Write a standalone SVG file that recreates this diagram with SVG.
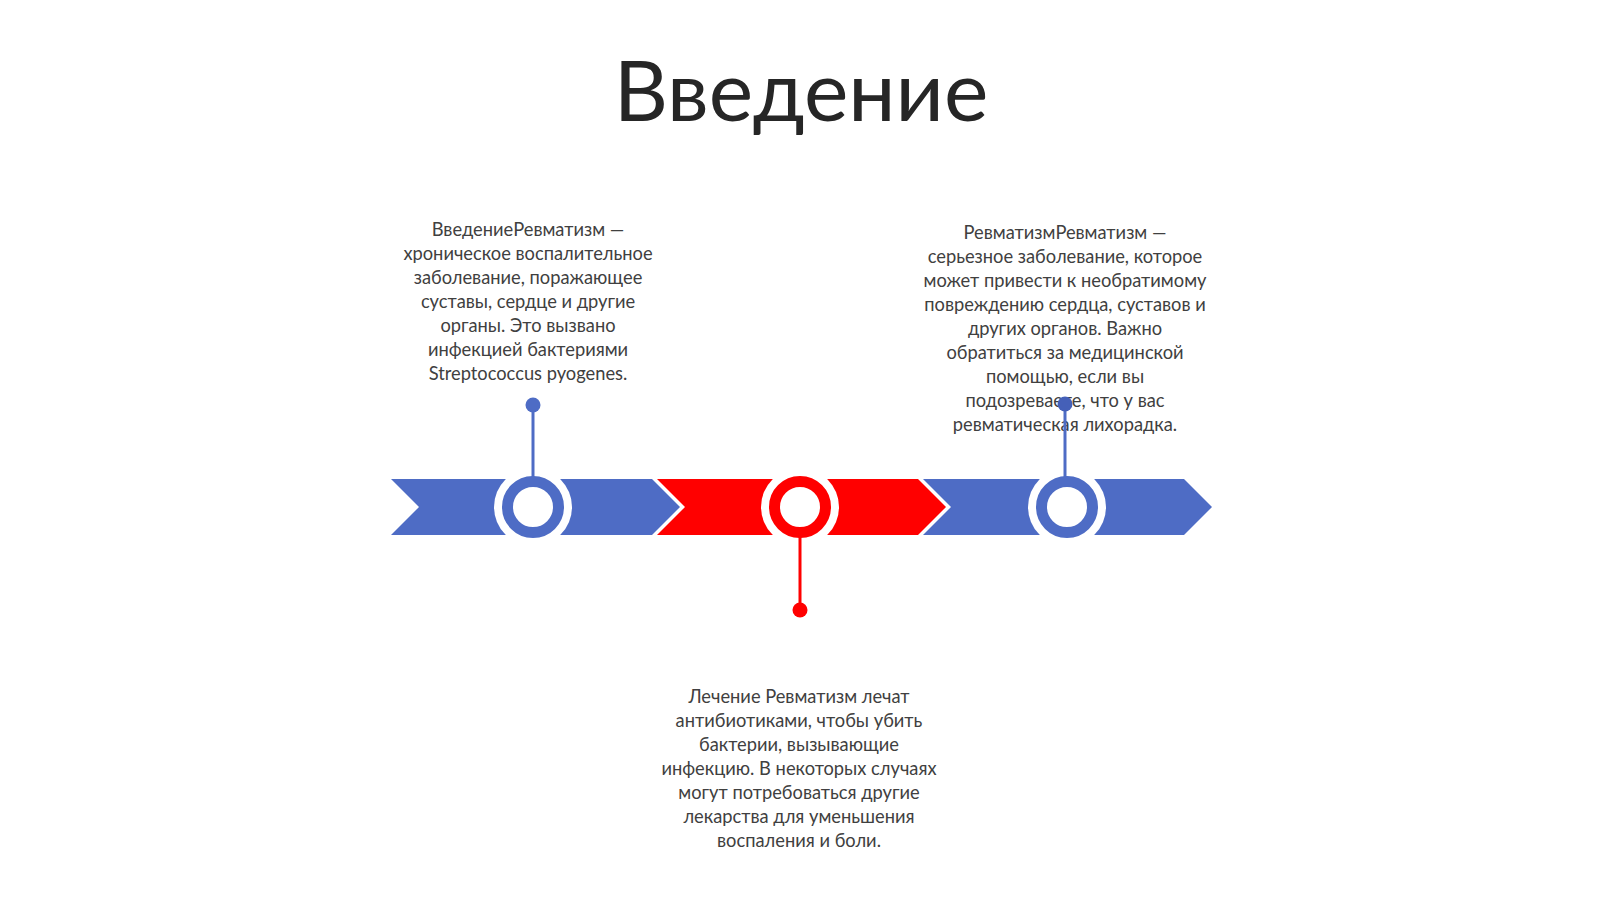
<svg xmlns="http://www.w3.org/2000/svg" width="1600" height="899" viewBox="0 0 1600 899">
<style>
.title{font-family:Lato,"Noto Sans",sans-serif;font-size:84px;fill:#262626;text-anchor:middle}
.txt{font-family:Lato,"Noto Sans",sans-serif;font-size:18.3px;fill:#404040;text-anchor:middle}
.blue{fill:#4E6CC5}
.red{fill:#FF0000}
.halo{fill:#FFFFFF}
.ring{fill:#FFFFFF;stroke-width:11}
.stemb{stroke:#4E6CC5;stroke-width:3}
.stemr{stroke:#FF0000;stroke-width:3}
</style>
<rect width="1600" height="899" fill="#FFFFFF"/>
<text class="title" x="801" y="121">Введение</text>

<g id="bar">
<polygon class="blue" points="391,479 652,479 680,507 652,535 391,535 419,507"/>
<polygon class="red" points="657,479 918,479 946,507 918,535 657,535 685,507"/>
<polygon class="blue" points="923,479 1184,479 1212,507 1184,535 923,535 951,507"/>
</g>

<g id="node1">
<circle class="halo" cx="533" cy="507" r="39"/>
<circle class="ring" cx="533" cy="507" r="25.5" stroke="#4E6CC5"/>
<text class="txt" x="528" y="236">ВведениеРевматизм —</text>
<text class="txt" x="528" y="260">хроническое воспалительное</text>
<text class="txt" x="528" y="284">заболевание, поражающее</text>
<text class="txt" x="528" y="308">суставы, сердце и другие</text>
<text class="txt" x="528" y="332">органы. Это вызвано</text>
<text class="txt" x="528" y="356">инфекцией бактериями</text>
<text class="txt" x="528" y="380">Streptococcus pyogenes.</text>
</g>

<g id="node2">
<circle class="halo" cx="800" cy="507" r="39"/>
<circle class="ring" cx="800" cy="507" r="25.5" stroke="#FF0000"/>
<text class="txt" x="799" y="703">Лечение Ревматизм лечат</text>
<text class="txt" x="799" y="727">антибиотиками, чтобы убить</text>
<text class="txt" x="799" y="751">бактерии, вызывающие</text>
<text class="txt" x="799" y="775">инфекцию. В некоторых случаях</text>
<text class="txt" x="799" y="799">могут потребоваться другие</text>
<text class="txt" x="799" y="823">лекарства для уменьшения</text>
<text class="txt" x="799" y="847">воспаления и боли.</text>
</g>

<g id="node3">
<circle class="halo" cx="1067" cy="507" r="39"/>
<circle class="ring" cx="1067" cy="507" r="25.5" stroke="#4E6CC5"/>
<text class="txt" x="1065" y="239">РевматизмРевматизм —</text>
<text class="txt" x="1065" y="263">серьезное заболевание, которое</text>
<text class="txt" x="1065" y="287">может привести к необратимому</text>
<text class="txt" x="1065" y="311">повреждению сердца, суставов и</text>
<text class="txt" x="1065" y="335">других органов. Важно</text>
<text class="txt" x="1065" y="359">обратиться за медицинской</text>
<text class="txt" x="1065" y="383">помощью, если вы</text>
<text class="txt" x="1065" y="407">подозреваете, что у вас</text>
<text class="txt" x="1065" y="431">ревматическая лихорадка.</text>
</g>

<g id="connectors">
<line class="stemb" x1="533" y1="405" x2="533" y2="477"/>
<circle class="blue" cx="533" cy="405" r="7.5"/>
<line class="stemr" x1="800" y1="537" x2="800" y2="610"/>
<circle class="red" cx="800" cy="610" r="7.5"/>
<line class="stemb" x1="1065" y1="404" x2="1065" y2="477"/>
<circle cx="1065" cy="404" r="7.5" fill="#4560B8"/>
</g>
</svg>
